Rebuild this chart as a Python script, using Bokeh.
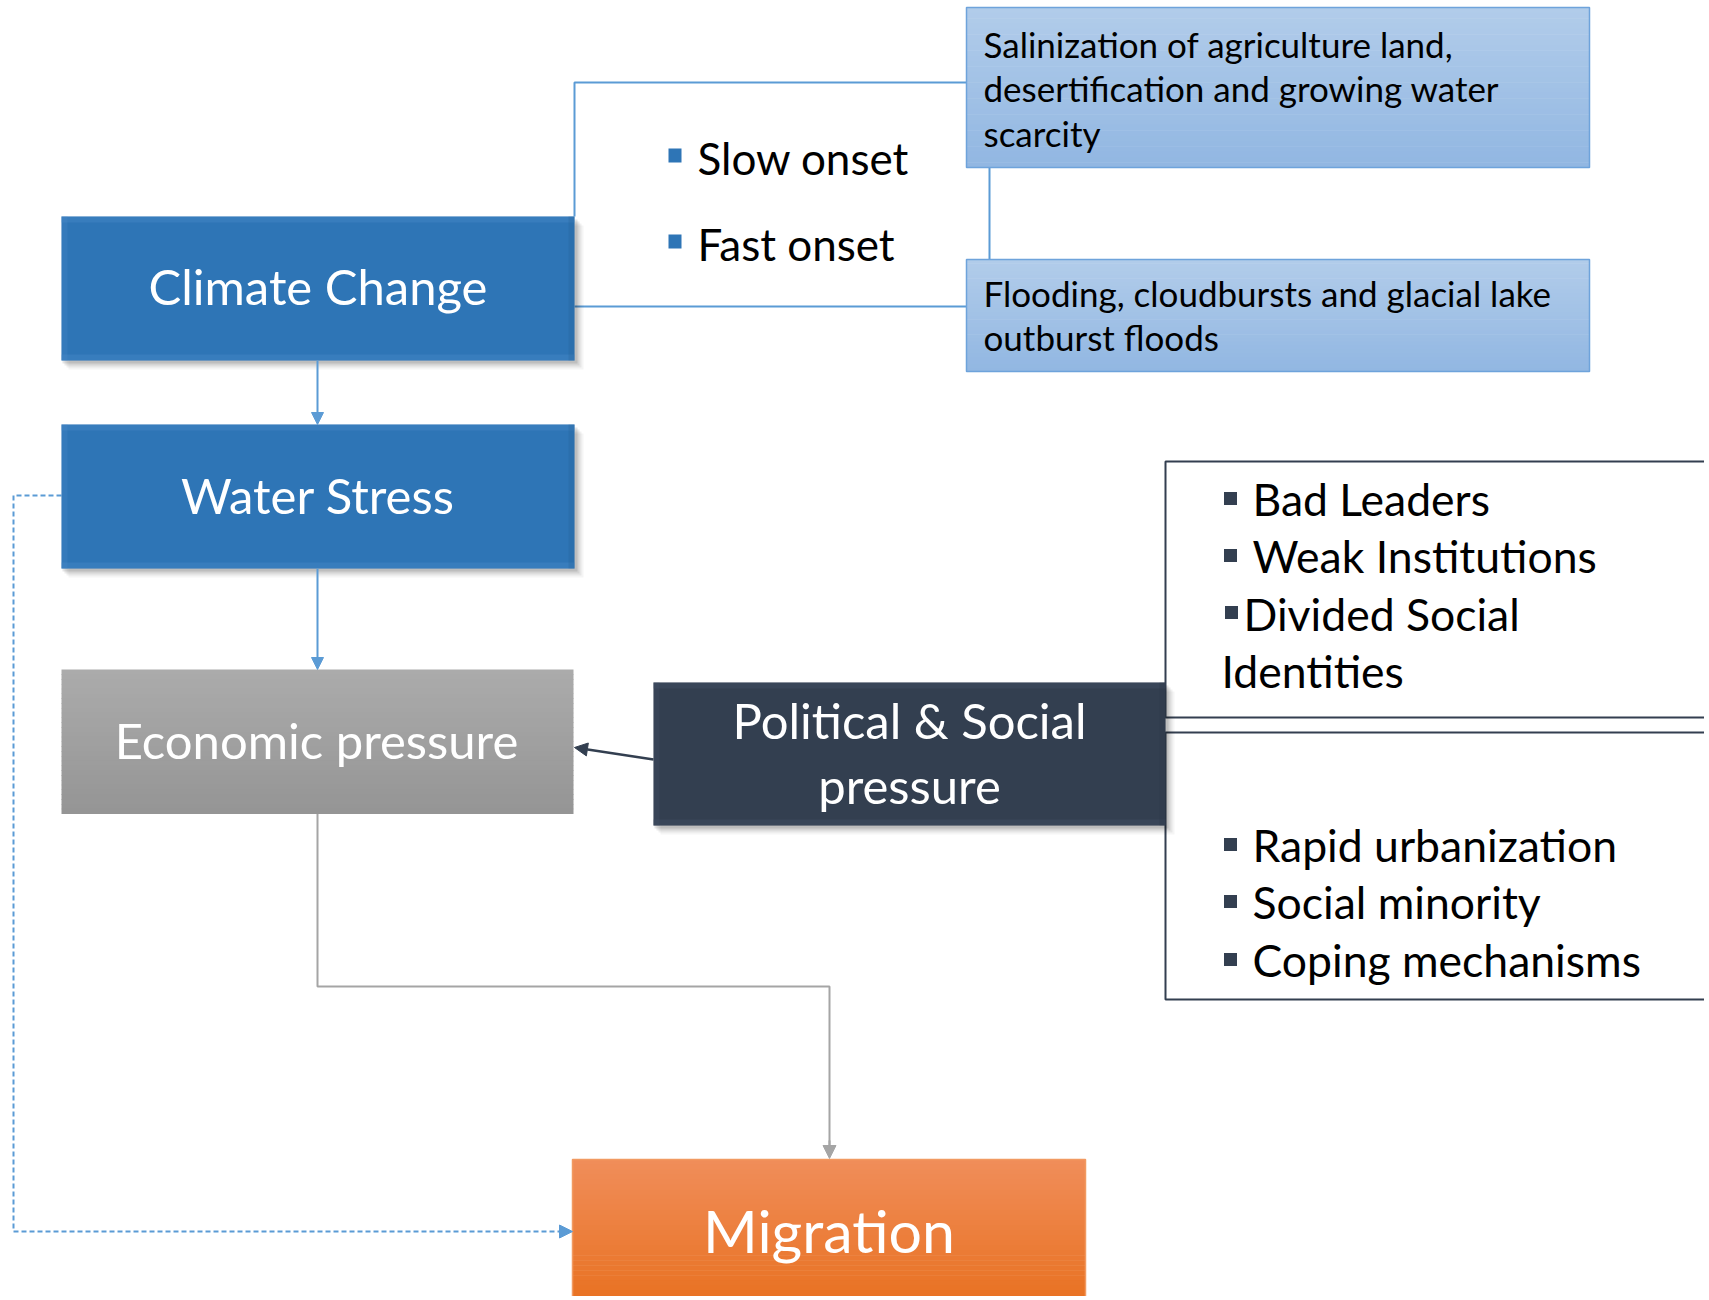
from bokeh.plotting import figure
from bokeh.models import Range1d, Arrow, NormalHead
from bokeh.embed import file_html
from bokeh.resources import INLINE
from bokeh.core.properties import value

# ---------------- content ----------------
box_labels = ["Climate Change", "Water Stress", "Economic pressure", "Migration"]
political_label = ["Political & Social", "pressure"]
onset_items = ["Slow onset", "Fast onset"]
slow_impact = ["Salinization of agriculture land,", "desertification and growing water", "scarcity"]
fast_impact = ["Flooding, cloudbursts and glacial lake", "outburst floods"]
governance_items = ["Bad Leaders", "Weak Institutions", "Divided Social", "Identities"]
social_items = ["Rapid urbanization", "Social minority", "Coping mechanisms"]

FONT = "Lato"
BLUE = "#2E75B6"
LINE_BLUE = "#5B9BD5"
DARK = "#333F50"
GRAY_LINE = "#A5A5A5"

W, H = 1704, 1296
p = figure(width=W, height=H, x_range=Range1d(0, W), y_range=Range1d(H, 0),
           output_backend="svg", toolbar_location=None, min_border=0)
p.axis.visible = False
p.grid.visible = False
p.outline_line_color = None
p.background_fill_color = "white"
p.border_fill_color = "white"


def hexmix(c1, c2, t):
    a = [int(c1[i:i + 2], 16) for i in (1, 3, 5)]
    b = [int(c2[i:i + 2], 16) for i in (1, 3, 5)]
    return "#%02x%02x%02x" % tuple(round(a[k] + (b[k] - a[k]) * t) for k in range(3))


def shadow(l, r, t, b):
    for k, a in enumerate([0.10, 0.08, 0.06, 0.04]):
        d = 3 + 2 * k
        p.quad(left=l + d - 2, right=r + d, top=t + d, bottom=b + d,
               fill_color="black", fill_alpha=a, line_color=None)


def gradient_box(l, r, t, b, c_top, c_bot, border=None, n=30):
    hs = (b - t) / n
    lefts, rights, tops, bots, cols = [], [], [], [], []
    for i in range(n):
        lefts.append(l); rights.append(r)
        tops.append(t + i * hs); bots.append(t + (i + 1) * hs + 0.6)
        cols.append(hexmix(c_top, c_bot, i / (n - 1)))
    p.quad(left=lefts, right=rights, top=tops, bottom=bots, fill_color=cols, line_color=None)
    if border:
        p.quad(left=l, right=r, top=t, bottom=b, fill_color=None, line_color=border, line_width=1.5)


def bevel_box(l, r, t, b, col, light, dark):
    p.quad(left=l, right=r, top=t, bottom=b, fill_color=col, line_color=None)
    p.quad(left=l, right=r, top=t, bottom=t + 6, fill_color=light, fill_alpha=0.35, line_color=None)
    p.quad(left=l, right=r, top=b - 6, bottom=b, fill_color=light, fill_alpha=0.35, line_color=None)
    p.quad(left=l, right=l + 6, top=t, bottom=b, fill_color=light, fill_alpha=0.25, line_color=None)
    p.quad(left=r - 6, right=r, top=t, bottom=b, fill_color=dark, fill_alpha=0.25, line_color=None)


def txt(x, y, s, size, color="black", align="left"):
    # y is the intended baseline; correct for the renderer's baseline placement
    p.text(x=[x], y=[y - 0.44 * size + 3.5], text=[s], text_font=value(FONT), text_font_size=f"{size}px",
           text_color=color, text_align=align, text_baseline="alphabetic")


def arrow(x0, y0, x1, y1, color, width=2, size=11, dash="solid"):
    p.add_layout(Arrow(end=NormalHead(size=size, fill_color=color, line_color=color, line_width=1),
                       x_start=x0, y_start=y0, x_end=x1, y_end=y1,
                       line_color=color, line_width=width, line_dash=dash))


# ---------------- connectors ----------------
p.line([574, 574, 966], [216, 82, 82], line_color=LINE_BLUE, line_width=2)
p.line([574, 966], [306, 306], line_color=LINE_BLUE, line_width=2)
p.line([989, 989], [167, 259], line_color=LINE_BLUE, line_width=2)

# dashed feedback Water Stress -> Migration
p.line([61, 13, 13, 562], [495, 495, 1231, 1231], line_color=LINE_BLUE, line_width=2, line_dash="5 3")
arrow(560, 1231, 572, 1231, LINE_BLUE, width=2, size=13)

# gray elbow Economic -> Migration
p.line([317, 317, 829, 829], [813, 986, 986, 1150], line_color=GRAY_LINE, line_width=2)
arrow(829, 1140, 829, 1158, GRAY_LINE, width=2, size=13)

# bracket boxes on the right
p.line([1720, 1165, 1165, 1720], [461, 461, 717, 717], line_color=DARK, line_width=2)
p.line([1720, 1165, 1165, 1720], [732, 732, 999, 999], line_color=DARK, line_width=2)

# ---------------- boxes ----------------
shadow(61, 574, 216, 360)
bevel_box(61, 574, 216, 360, BLUE, "#4A8CCB", "#255F95")
shadow(61, 574, 424, 568)
bevel_box(61, 574, 424, 568, BLUE, "#4A8CCB", "#255F95")
gradient_box(61, 573, 669, 813, "#ABABAB", "#959595")
shadow(653, 1165, 682, 825)
bevel_box(653, 1165, 682, 825, DARK, "#46536A", "#2A3444")
gradient_box(572, 1085, 1159, 1310, "#F08D59", "#E8701F", border="#F19A62")
gradient_box(966, 1589, 7, 167, "#B1CCEA", "#92B7E2", border="#6EA3DB")
gradient_box(966, 1589, 259, 371, "#B1CCEA", "#92B7E2", border="#6EA3DB")

# arrows between the main column
arrow(317, 360, 317, 424, LINE_BLUE, width=2, size=12)
arrow(317, 568, 317, 669, LINE_BLUE, width=2, size=12)
arrow(653, 759, 574, 747, DARK, width=2.5, size=13)

# ---------------- texts ----------------
title_size = 49
txt(317.5, 304, box_labels[0], title_size, "white", "center")
txt(317.5, 513, box_labels[1], title_size, "white", "center")
txt(316, 758, box_labels[2], title_size, "white", "center")
txt(828.5, 1252, box_labels[3], 59, "white", "center")
txt(909, 738, political_label[0], title_size, "white", "center")
txt(909, 803, political_label[1], title_size, "white", "center")

for i, s in enumerate(slow_impact):
    txt(983, 55 + 44.5 * i, s, 35)
for i, s in enumerate(fast_impact):
    txt(983, 304 + 44 * i, s, 35)

onset_base = [173, 259]
for s, yb in zip(onset_items, onset_base):
    p.rect(x=[674.5], y=[yb - 18], width=13, height=14, fill_color=BLUE, line_color=None)
    txt(697, yb, s, 44)

gov_base = [514, 571, 629, 686]
gov_x = [1252, 1252, 1243, 1221]
for k, (s, yb, xx) in enumerate(zip(governance_items, gov_base, gov_x)):
    if k < 2:
        p.rect(x=[1230], y=[yb - 16], width=13, height=13, fill_color=DARK, line_color=None)
    elif k == 2:
        p.rect(x=[1231], y=[yb - 17], width=13, height=13, fill_color=DARK, line_color=None)
    txt(xx, yb, s, 44.5)

soc_base = [860, 917, 975]
for s, yb in zip(social_items, soc_base):
    p.rect(x=[1230], y=[yb - 16], width=13, height=13, fill_color=DARK, line_color=None)
    txt(1252, yb, s, 44.5)

open("out.html", "w").write(file_html(p, INLINE))
